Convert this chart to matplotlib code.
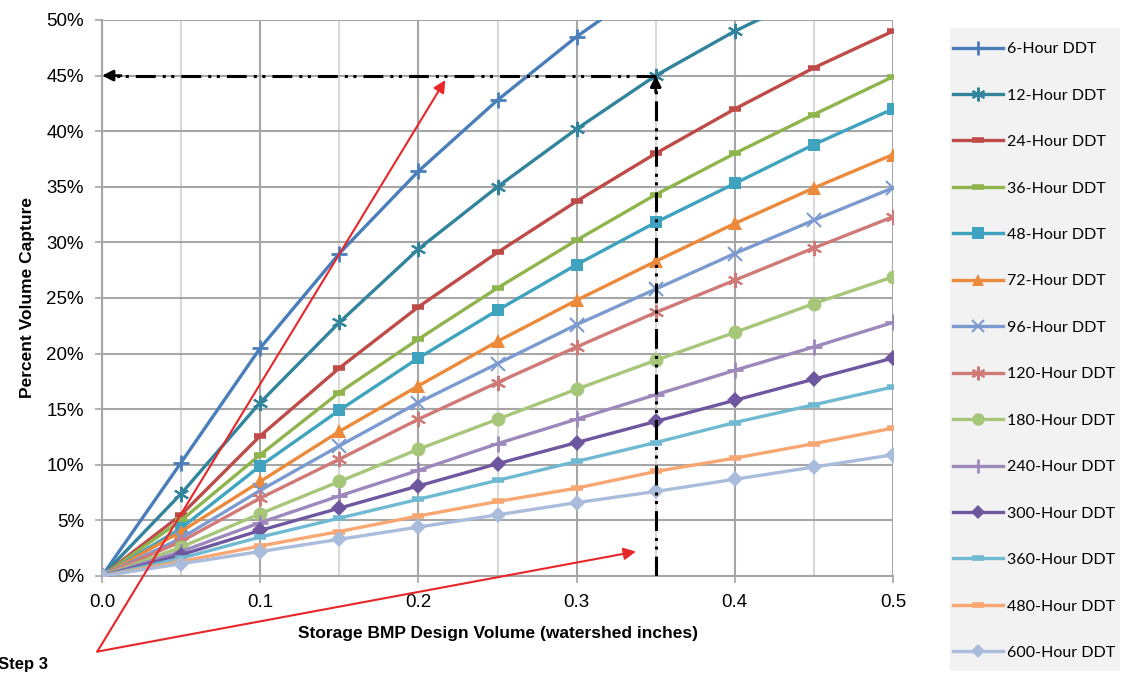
import numpy as np
import matplotlib
matplotlib.use("Agg")
import matplotlib.pyplot as plt
from matplotlib.patches import Rectangle
from matplotlib.ticker import MultipleLocator, FuncFormatter

# ------------------------------------------------------------
# Data
# ------------------------------------------------------------
volumes = [0.0, 0.05, 0.10, 0.15, 0.20, 0.25, 0.30, 0.35, 0.40, 0.45, 0.50]
nan = np.nan

ddt_6 = [0, 10.2, 20.5, 29.0, 36.4, 42.8, 48.5, 53.5, nan, nan, nan]
ddt_12 = [0, 7.4, 15.6, 22.8, 29.4, 35.0, 40.2, 45.0, 49.0, 52.4, nan]
ddt_24 = [0, 5.5, 12.6, 18.7, 24.2, 29.1, 33.7, 38.0, 42.0, 45.7, 49.0]
ddt_36 = [0, 5.0, 10.9, 16.5, 21.3, 25.9, 30.2, 34.3, 38.0, 41.5, 44.9]
ddt_48 = [0, 4.3, 9.9, 14.9, 19.6, 23.9, 28.0, 31.8, 35.3, 38.8, 42.0]
ddt_72 = [0, 4.0, 8.5, 13.0, 17.1, 21.1, 24.8, 28.3, 31.7, 34.9, 37.9]
ddt_96 = [0, 3.4, 7.7, 11.7, 15.6, 19.1, 22.6, 25.8, 29.0, 32.0, 34.9]
ddt_120 = [0, 3.1, 7.0, 10.5, 14.1, 17.4, 20.6, 23.7, 26.6, 29.5, 32.3]
ddt_180 = [0, 2.6, 5.6, 8.5, 11.4, 14.1, 16.8, 19.4, 21.9, 24.5, 26.9]
ddt_240 = [0, 2.2, 4.8, 7.2, 9.5, 11.9, 14.1, 16.3, 18.5, 20.6, 22.8]
ddt_300 = [0, 1.9, 4.1, 6.1, 8.1, 10.1, 12.0, 13.9, 15.8, 17.7, 19.6]
ddt_360 = [0, 1.6, 3.5, 5.2, 6.9, 8.6, 10.3, 12.0, 13.8, 15.4, 17.0]
ddt_480 = [0, 1.3, 2.7, 4.0, 5.4, 6.7, 7.9, 9.4, 10.6, 11.9, 13.3]
ddt_600 = [0, 1.1, 2.2, 3.3, 4.4, 5.5, 6.6, 7.6, 8.7, 9.8, 10.9]

series_labels = ["6-Hour DDT", "12-Hour DDT", "24-Hour DDT", "36-Hour DDT",
                 "48-Hour DDT", "72-Hour DDT", "96-Hour DDT", "120-Hour DDT",
                 "180-Hour DDT", "240-Hour DDT", "300-Hour DDT", "360-Hour DDT",
                 "480-Hour DDT", "600-Hour DDT"]
series_values = [ddt_6, ddt_12, ddt_24, ddt_36, ddt_48, ddt_72, ddt_96,
                 ddt_120, ddt_180, ddt_240, ddt_300, ddt_360, ddt_480, ddt_600]

# design point used in the worked example
design_volume = 0.35
design_capture = 45.0

# ------------------------------------------------------------
# Styles
# ------------------------------------------------------------
ASTERISK = (6, 2, 0)
styles = [
    dict(color="#4a7ebb", marker="+", ms=11, mew=2),
    dict(color="#31849b", marker=ASTERISK, ms=11, mew=1.5),
    dict(color="#be4b48", marker="_", ms=9, mew=4),
    dict(color="#8eb44c", marker="_", ms=9, mew=4),
    dict(color="#3fa3bf", marker="s", ms=9, mew=0),
    dict(color="#ec8a3c", marker="^", ms=10, mew=0),
    dict(color="#7b9bd0", marker="x", ms=10, mew=1.5),
    dict(color="#d07a78", marker=ASTERISK, ms=11, mew=1.5),
    dict(color="#a6c77a", marker="o", ms=10, mew=0),
    dict(color="#9d88bb", marker="+", ms=11, mew=2),
    dict(color="#6f57a0", marker="D", ms=8, mew=0),
    dict(color="#6fbad2", marker="_", ms=9, mew=4),
    dict(color="#f8a672", marker="_", ms=9, mew=4),
    dict(color="#a9bcdc", marker="D", ms=8, mew=0),
]

plt.rcParams["font.family"] = ["Liberation Sans", "DejaVu Sans"]

fig = plt.figure(figsize=(11.27, 6.77), dpi=100)
ax = fig.add_axes([102 / 1127, 101 / 677, 791 / 1127, 556 / 677])

for vals, lab, st in zip(series_values, series_labels, styles):
    ax.plot(volumes, vals, color=st["color"], linewidth=2.4,
            marker=st["marker"], markersize=st["ms"], markeredgewidth=st["mew"],
            markerfacecolor=st["color"], markeredgecolor=st["color"],
            label=lab, zorder=3)

# axes / grid
ax.set_xlim(0, 0.5)
ax.set_ylim(0, 50)
ax.xaxis.set_major_locator(MultipleLocator(0.1))
ax.xaxis.set_minor_locator(MultipleLocator(0.05))
ax.yaxis.set_major_locator(MultipleLocator(5))
ax.xaxis.set_major_formatter(FuncFormatter(lambda v, p: f"{v:.1f}"))
ax.yaxis.set_major_formatter(FuncFormatter(lambda v, p: f"{v:.0f}%"))
ax.grid(which="major", axis="both", color="#a6a6a6", linewidth=1.5, zorder=0)
ax.grid(which="minor", axis="x", color="#d9d9d9", linewidth=1.5, zorder=0)
for s in ["top", "right"]:
    ax.spines[s].set_visible(False)
for s in ["left", "bottom"]:
    ax.spines[s].set_color("#a6a6a6")
    ax.spines[s].set_linewidth(1.5)
ax.tick_params(axis="both", which="major", length=5, width=1.2,
               color="#a6a6a6", labelsize=13.5, pad=8)
ax.tick_params(axis="x", which="minor", length=0)
ax.set_axisbelow(True)

ax.set_xlabel("Storage BMP Design Volume (watershed inches)",
              fontsize=12.5, fontweight="bold", labelpad=11)
ax.set_ylabel("Percent Volume Capture", fontsize=12.5, fontweight="bold",
              labelpad=8)

# worked example: dash-dot-dot guide lines with arrowheads
dash_pat = (0, (6.5, 2.3, 1, 1.8, 1, 2.3))
ax.plot([design_volume, 0.006], [design_capture, design_capture], color="black",
        linewidth=2.2, linestyle=dash_pat, zorder=5)
ax.plot([design_volume, design_volume], [0, design_capture - 0.8], color="black",
        linewidth=2.2, linestyle=dash_pat, zorder=5)
ax.annotate("", xy=(0.0, design_capture), xytext=(0.012, design_capture),
            arrowprops=dict(arrowstyle="-|>", color="black", lw=2,
                            mutation_scale=16, shrinkA=0, shrinkB=0),
            annotation_clip=False, zorder=6)
ax.annotate("", xy=(design_volume, design_capture),
            xytext=(design_volume, design_capture - 1.5),
            arrowprops=dict(arrowstyle="-|>", color="black", lw=2,
                            mutation_scale=16, shrinkA=0, shrinkB=0),
            annotation_clip=False, zorder=6)

# "Step 3" red pointer arrows
step_origin = (-0.003, -6.8)
for target in [(0.217, 44.6), (0.3375, 2.2)]:
    ax.annotate("", xy=target, xytext=step_origin,
                arrowprops=dict(arrowstyle="-|>", color="#e8262a", lw=1.5,
                                mutation_scale=18, shrinkA=0, shrinkB=0),
                annotation_clip=False, zorder=7)
fig.text(-2 / 1127, 1 - 665 / 677, "Step 3", fontsize=12, fontweight="bold",
         va="center", ha="left")

# legend on grey panel
fig.patches.append(Rectangle((950 / 1127, 1 - 671 / 677), 170 / 1127, 643 / 677,
                             transform=fig.transFigure, facecolor="#f2f2f2",
                             edgecolor="none", zorder=-1))
leg = ax.legend(loc="upper left", bbox_to_anchor=(953 / 1127, 1 - 42 / 677),
                bbox_transform=fig.transFigure, frameon=False,
                prop={"family": ["Lato", "DejaVu Sans"], "size": 11.5},
                labelspacing=2.02, handlelength=3.1, handletextpad=0.3,
                borderpad=0, borderaxespad=0, markerscale=0.9)

fig.savefig("out.png", dpi=100)
